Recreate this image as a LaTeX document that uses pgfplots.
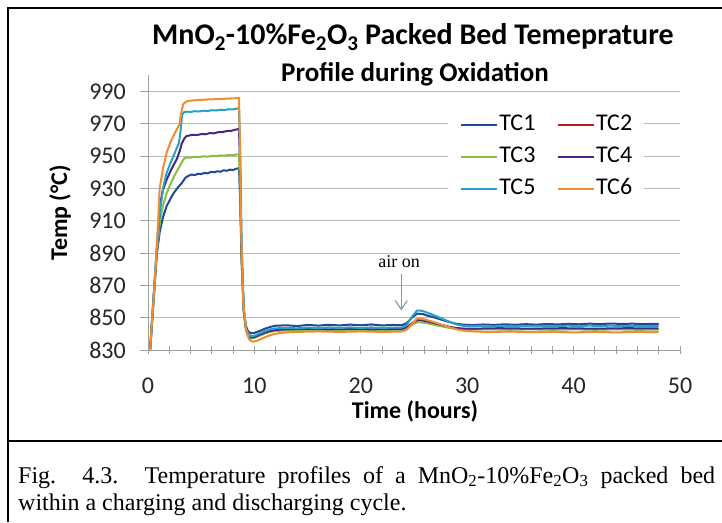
\documentclass[border=0pt]{standalone}
\usepackage{fontspec}
\setmainfont{Carlito}
\newfontfamily\timesfont{Liberation Serif}
\usepackage{pgfplots}
\pgfplotsset{compat=1.18}
\usetikzlibrary{arrows.meta}
\definecolor{cA}{RGB}{31,73,145}
\definecolor{cB}{RGB}{175,30,30}
\definecolor{cC}{RGB}{140,188,70}
\definecolor{cD}{RGB}{72,40,130}
\definecolor{cE}{RGB}{40,160,200}
\definecolor{cF}{RGB}{242,140,50}
\definecolor{gridc}{RGB}{185,185,185}
\definecolor{axc}{RGB}{160,160,160}
\definecolor{arrc}{RGB}{120,150,185}
\begin{document}
\begin{tikzpicture}
\useasboundingbox (0,0) rectangle (722pt,522pt);
\fill[white] (0,0) rectangle (722pt,522pt);
\begin{axis}[
  at={(148pt,172pt)}, anchor=south west, scale only axis,
  width=532pt, height=274.7pt,
  xmin=0, xmax=50, ymin=830, ymax=1000,
  axis lines*=left,
  axis line style={draw=axc, line width=0.9pt},
  xtick={0,10,...,50}, minor xtick={0,2,...,50},
  ytick={830,850,...,990},
  xtick align=center, ytick align=outside,
  major tick length=8pt, minor tick length=8pt,
  tick style={draw=axc, line width=0.8pt},
  ymajorgrids, grid style={draw=gridc, line width=0.9pt},
  /pgf/number format/assume math mode=true,
  /pgf/number format/1000 sep={},
  tick label style={font=\fontsize{24}{24}\selectfont, text=black!85},
  xticklabel style={anchor=base, yshift=-39pt},
  yticklabel style={anchor=east, inner sep=0pt, xshift=-14pt},
  legend columns=2,
  legend style={at={(0.748,0.7026)}, anchor=center, draw=none, fill=white,
    font=\fontsize{24}{24}\selectfont, inner xsep=12pt, inner ysep=4pt,
    row sep=10pt,
    nodes={inner sep=0pt, text height=17pt, text depth=5pt},
    /tikz/every odd column/.style={column sep=1pt},
    /tikz/every even column/.style={column sep=21pt}},
  legend image code/.code={\draw[#1, line width=2.6pt] (0pt,0pt) -- (36pt,0pt);},
  every axis plot/.append style={line width=2pt, line join=round},
]
\addplot[cA] coordinates {(0.2,830)(0.5,858)(0.82,889)(1.1,903)(1.4,912)(1.75,919)(2.1,923.5)(2.4,927)(2.8,930.5)(3.2,933.5)(3.5,936.5)(3.8,937.8)(4.1,938.6)(4.4,938.2)(4.7,939.1)(5.0,938.8)(5.3,939.6)(5.6,939.3)(5.9,940.2)(6.2,940.0)(6.5,940.6)(6.8,940.3)(7.1,941.2)(7.4,940.9)(7.7,941.6)(8.0,941.4)(8.3,942.2)(8.55,942.5)(8.65,925)(8.8,885)(9.0,855)(9.2,845)(9.4,841.5)(9.7,840.3)(10,840.6)(10.5,841.8)(11,843.2)(11.5,844.3)(12,845.0)(13,845.3)(14,844.8)(15,845.5)(16,845.1)(17,845.6)(18,845.2)(19,845.7)(20,845.3)(21,845.8)(22,845.2)(23,845.5)(23.8,845.3)(24.3,846.5)(24.8,850)(25.3,852.5)(25.8,852.3)(26.3,851.2)(27,850)(27.7,848.5)(28.4,847.2)(29,846.2)(29.6,845.7)(30.5,845.4)(31.5,845.8)(32.5,845.5)(33.5,845.9)(34.5,845.6)(35.5,846.0)(36.5,845.7)(37.5,846.1)(38.5,845.8)(39.5,846.2)(40.5,845.9)(41.5,846.3)(42.5,846.0)(43.5,846.4)(44.5,846.1)(45.5,846.3)(46.5,846.0)(47.5,846.2)(48,846.1)};
\addlegendentry{TC1}
\addlegendimage{cB}
\addlegendentry{TC2}
\addplot[cC] coordinates {(0.2,830)(0.5,859)(0.82,890)(1.13,910)(1.4,919)(1.75,927)(2.1,932.5)(2.38,936.5)(2.7,940.5)(3.0,944)(3.2,946.5)(3.4,948.6)(3.7,949.2)(4.0,949.0)(4.4,949.6)(4.8,949.3)(5.2,949.9)(5.6,949.6)(6.0,950.1)(6.4,949.9)(6.8,950.4)(7.2,950.2)(7.6,950.7)(8.0,950.5)(8.3,951)(8.55,951)(8.65,932)(8.8,884)(9.0,853)(9.2,843)(9.4,839)(9.7,837.3)(10,837.5)(10.5,838.8)(11,840.2)(11.5,841.2)(12,841.8)(13,842.1)(14,841.9)(15,842.3)(16,842.0)(17,842.4)(18,842.1)(19,842.5)(20,842.2)(21,842.5)(22,842.2)(23,842.4)(23.8,842.3)(24.3,843.3)(24.8,845.5)(25.3,847.2)(25.8,847)(26.3,846.4)(27,845.5)(27.7,844.5)(28.4,843.6)(29,843)(29.6,842.7)(30.5,842.6)(32,842.8)(34,842.5)(36,842.8)(38,842.5)(40,842.8)(42,842.5)(44,842.8)(46,842.5)(48,842.6)};
\addlegendentry{TC3}
\addplot[cD] coordinates {(0.2,830)(0.5,860)(0.82,891)(1.13,920)(1.4,929)(1.76,935.5)(2.1,940.5)(2.4,944.5)(2.7,948)(3.0,953.5)(3.16,957.5)(3.4,960.8)(3.6,962.3)(3.9,962.8)(4.2,963.2)(4.6,963.0)(5.0,963.6)(5.4,963.5)(5.8,964.2)(6.2,964.1)(6.6,964.8)(7.0,964.9)(7.4,965.5)(7.8,965.6)(8.2,966.3)(8.55,966.8)(8.65,946)(8.8,888)(9.0,854)(9.2,843)(9.4,839)(9.7,837.6)(10,838)(10.5,839.5)(11,840.8)(11.5,841.8)(12,842.4)(13,842.8)(15,843.1)(17,842.8)(19,843.1)(21,842.8)(23,843.0)(23.8,842.9)(24.3,844)(24.8,846.5)(25.3,848.5)(25.8,848.3)(26.3,847.6)(27,846.5)(27.7,845.3)(28.4,844.3)(29,843.6)(29.6,843.3)(30.5,843.2)(33,843.5)(36,843.2)(39,843.5)(42,843.2)(45,843.5)(48,843.3)};
\addlegendentry{TC4}
\addplot[cE] coordinates {(0.2,830)(0.5,861)(0.82,893)(1.1,914)(1.44,931)(1.75,939.5)(2.1,945.5)(2.4,950)(2.7,955)(2.9,958)(3.05,965)(3.2,975.5)(3.4,977.2)(3.7,977.5)(4.0,977.3)(4.4,977.8)(4.8,977.6)(5.2,978.1)(5.6,977.9)(6.0,978.4)(6.4,978.2)(6.8,978.7)(7.2,978.5)(7.6,979.0)(8.0,978.9)(8.3,979.4)(8.55,979.5)(8.65,958)(8.8,897)(9.0,856)(9.2,844)(9.4,840)(9.7,838.4)(10,838.8)(10.5,840.3)(11,841.7)(11.5,842.8)(12,843.4)(13,843.7)(14,843.4)(15,843.9)(16,843.5)(17,844.0)(18,843.6)(19,844.0)(20,843.6)(21,844.0)(22,843.6)(23,843.9)(23.8,843.8)(24.3,845.3)(24.8,850.5)(25.3,854.5)(25.8,854.2)(26.3,853)(27,851.2)(27.7,849.2)(28.4,847.3)(29,845.8)(29.6,845)(30.5,844.7)(31.5,845.0)(32.5,844.6)(33.5,845.0)(34.5,844.6)(35.5,845.0)(36.5,844.6)(37.5,845.0)(38.5,844.7)(39.5,845.1)(40.5,844.7)(41.5,845.1)(42.5,844.7)(43.5,845.1)(44.5,844.7)(45.5,845.0)(46.5,844.7)(47.5,845.0)(48,844.8)};
\addlegendentry{TC5}
\addplot[cF] coordinates {(0.2,830)(0.4,850)(0.6,868)(0.82,893)(1.1,930)(1.4,942)(1.75,952)(2.1,958.5)(2.4,962.5)(2.7,966.5)(2.95,969.5)(3.1,976)(3.3,982)(3.6,983.8)(4.0,984.3)(4.5,984.6)(5.0,984.8)(5.5,985.0)(6.0,985.1)(6.5,985.3)(7.0,985.4)(7.5,985.6)(8.0,985.7)(8.55,986)(8.62,965)(8.75,905)(8.95,860)(9.2,843)(9.5,836.5)(9.8,835.2)(10.2,835.6)(10.7,837)(11.2,838.5)(11.7,839.6)(12.3,840.4)(13,840.9)(14,841.2)(16,841.5)(18,841.2)(20,841.5)(22,841.2)(23.8,841.4)(24.3,842.5)(24.8,846)(25.3,849.5)(25.8,849.3)(26.3,848.4)(27,847)(27.7,845.4)(28.4,844)(29,842.8)(29.6,842)(30.5,841.5)(32,841.1)(34,841.4)(36,841.0)(38,841.3)(40,840.9)(42,841.2)(44,840.9)(46,841.2)(48,841.0)};
\addlegendentry{TC6}
\draw[arrc, line width=1.1pt, -{Straight Barb[length=9pt,width=12pt]}] (axis cs:23.8,877) -- (axis cs:23.8,854.5);
\node[font=\timesfont\fontsize{18}{18}\selectfont, anchor=base] at (axis cs:23.6,881) {air on};
\end{axis}
% titles and labels
\node[font=\bfseries\fontsize{30}{30}\selectfont, anchor=base] at (413pt,477pt) {MnO\textsubscript{2}-10\%Fe\textsubscript{2}O\textsubscript{3} Packed Bed Temeprature};
\node[font=\bfseries\fontsize{27}{27}\selectfont, anchor=base] at (415pt,440pt) {Profile during Oxidation};
\node[font=\bfseries\fontsize{24}{24}\selectfont, anchor=base] at (415pt,104pt) {Time (hours)};
\node[font=\bfseries\fontsize{24}{24}\selectfont, anchor=center, rotate=90] at (60pt,309pt) {Temp (°C)};
% frame
\draw[line width=2.6pt] (8pt,0pt) -- (8pt,514pt) -- (722pt,514pt);
\draw[line width=2.6pt] (8pt,81pt) -- (722pt,81pt);
% caption
\node[font=\timesfont\fontsize{24}{24}\selectfont, anchor=base west, inner sep=0pt] at (18pt,39pt) {\makebox[697pt][s]{Fig. 4.3. Temperature profiles of a MnO\textsubscript{2}-10\%Fe\textsubscript{2}O\textsubscript{3} packed bed}};
\node[font=\timesfont\fontsize{24}{24}\selectfont, anchor=base west, inner sep=0pt] at (18pt,12pt) {within a charging and discharging cycle.};
\end{tikzpicture}
\end{document}
